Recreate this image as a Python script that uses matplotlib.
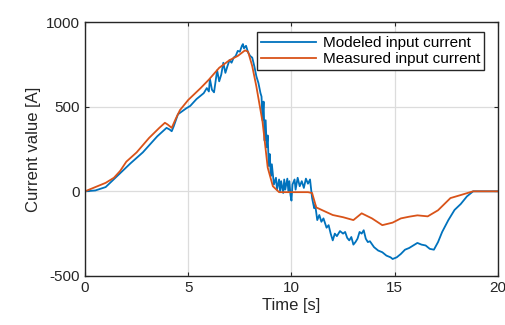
import matplotlib as mpl
mpl.use('Agg')
import matplotlib.pyplot as plt

# Measured input current (orange)
t_meas = [0, 0.5, 1.0, 1.4, 1.7, 2.0, 2.5, 3.1, 3.6, 3.87, 4.0, 4.2, 4.4,
          4.6, 5.0, 5.6, 6.0, 6.5, 7.0, 7.4, 7.75, 7.9, 8.1, 8.3, 8.6,
          8.85, 9.1, 9.4, 10.0, 10.8, 11.0, 11.2, 11.5, 12.0, 12.5, 13.0,
          13.4, 13.9, 14.4, 14.9, 15.3, 15.7, 16.1, 16.6, 17.1, 17.7, 18.2,
          18.8, 19.4, 20.0]
i_meas = [0, 25, 50, 80, 120, 175, 230, 315, 375, 405, 395, 375, 430,
          480, 540, 610, 660, 730, 775, 800, 833, 825, 740, 620, 410,
          140, 30, -5, -5, -5, -10, -95, -112, -140, -153, -170,
          -130, -160, -200, -185, -160, -150, -142, -148, -112, -40, -22,
          0, 0, 0]

# Modeled input current (blue)
t_mod = [0, 0.5, 1.0, 1.6, 2.2, 2.8, 3.5, 3.95, 4.1, 4.2, 4.3, 4.5, 4.9,
         5.1, 5.4, 5.6, 5.75, 5.9, 6.0, 6.05, 6.15, 6.25, 6.4, 6.5, 6.6,
         6.7, 6.8, 6.9, 7.0, 7.1, 7.2, 7.3, 7.4, 7.5, 7.6, 7.65, 7.7, 7.8,
         7.9, 8.0, 8.1, 8.2, 8.3, 8.4, 8.5, 8.55, 8.6, 8.65, 8.7, 8.75,
         8.8, 8.85, 8.9, 8.95, 9.0, 9.05, 9.15, 9.25, 9.3, 9.4, 9.45, 9.5,
         9.6, 9.65, 9.7, 9.8, 9.85, 9.9, 9.95, 10.0, 10.05, 10.15, 10.2,
         10.3, 10.4, 10.5, 10.6, 10.7, 10.8, 10.9, 11.0, 11.1, 11.15,
         11.25, 11.35, 11.45, 11.55, 11.7, 11.8, 11.9, 12.0, 12.1, 12.2,
         12.35, 12.5, 12.6, 12.7, 12.8, 12.9, 13.0, 13.1, 13.2, 13.3, 13.4,
         13.5, 13.6, 13.7, 13.8, 14.0, 14.2, 14.4, 14.6, 14.8, 14.9, 15.1,
         15.3, 15.5, 15.7, 15.9, 16.1, 16.3, 16.5, 16.7, 16.9, 17.1, 17.3,
         17.6, 17.9, 18.2, 18.5, 18.8, 19.2, 20.0]
i_mod = [0, 5, 25, 95, 165, 230, 325, 375, 365, 355, 385, 455, 490,
         505, 545, 565, 580, 610, 590, 665, 600, 585, 715, 650, 690,
         760, 700, 740, 775, 760, 790, 800, 830, 825, 860, 870, 845, 860,
         820, 800, 790, 740, 680, 640, 580, 560, 420, 530, 300, 420,
         260, 330, 150, 220, 90, 160, 40, 80, 10, 70, 0, 60,
         -10, 70, 10, 75, 0, 60, -20, -55, 40, 70, 10,
         80, 30, 60, 20, 75, 45, 70, -40, -100, -80,
         -170, -140, -180, -160, -215, -200, -250, -290, -250, -265,
         -235, -250, -240, -275, -290, -270, -315, -300, -280, -240, -250,
         -230, -280, -300, -295, -330, -350, -360, -380, -390, -400, -390,
         -370, -345, -335, -320, -305, -315, -320, -340, -345, -300, -240,
         -170, -110, -75, -30, 0, 0, 0]

plt.rcParams['font.family'] = ['Liberation Sans', 'DejaVu Sans']
plt.rcParams['axes.unicode_minus'] = False

fig = plt.figure(figsize=(5.06, 3.25), dpi=100)
ax = fig.add_axes([0.168, 0.151, 0.816, 0.781])

ax.plot(t_mod, i_mod, color='#0072BD', lw=1.3, label='Modeled input current')
ax.plot(t_meas, i_meas, color='#D95319', lw=1.3, label='Measured input current')

ax.set_xlim(0, 20)
ax.set_ylim(-500, 1000)
ax.set_xticks([0, 5, 10, 15, 20])
ax.set_yticks([-500, 0, 500, 1000])
ax.grid(True, color='#dcdcdc', lw=0.9)
ax.set_axisbelow(True)
ax.tick_params(direction='in', top=True, right=True, labelsize=11,
               colors='#262626', length=3)
for sp in ax.spines.values():
    sp.set_color('#262626')
    sp.set_linewidth(1.0)

ax.set_xlabel('Time [s]', fontsize=12, color='#262626', labelpad=2)
ax.set_ylabel('Current value [A]', fontsize=12, color='#262626', labelpad=4)

leg = ax.legend(loc='upper right', bbox_to_anchor=(0.967, 0.96), fontsize=11,
                fancybox=False, framealpha=1, edgecolor='#262626',
                borderpad=0.25, labelspacing=0.15, handlelength=3.6,
                handletextpad=0.45, borderaxespad=0)
leg.get_frame().set_linewidth(1.0)

fig.savefig('out.png', dpi=100)
